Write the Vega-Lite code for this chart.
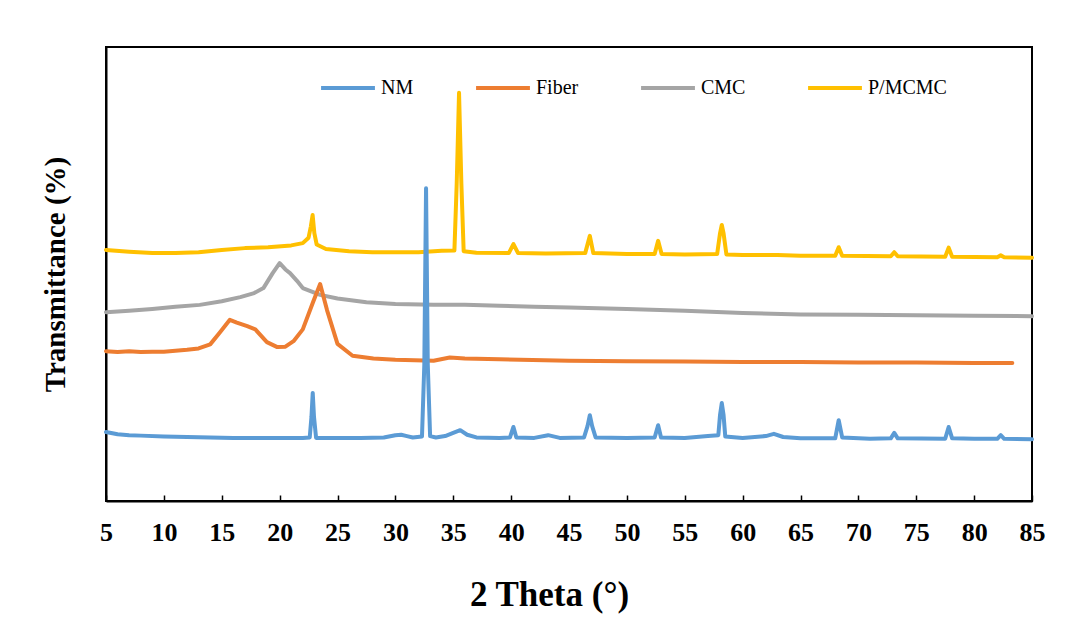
{
  "$schema": "https://vega.github.io/schema/vega-lite/v6.json",
  "width": 926,
  "height": 454,
  "autosize": {"type": "none"},
  "padding": {"left": 106, "top": 47, "right": 33, "bottom": 126},
  "background": "white",
  "config": {
    "font": "Liberation Serif",
    "view": {"stroke": "black", "strokeWidth": 2}
  },
  "data": {
    "values": [
      {"s": "P/MCMC", "x": 5, "y": 55.3}, {"s": "P/MCMC", "x": 7, "y": 54.9}, {"s": "P/MCMC", "x": 9, "y": 54.6}, {"s": "P/MCMC", "x": 11, "y": 54.6}, {"s": "P/MCMC", "x": 13, "y": 54.8}, {"s": "P/MCMC", "x": 15, "y": 55.3}, {"s": "P/MCMC", "x": 17, "y": 55.7}, {"s": "P/MCMC", "x": 19, "y": 55.9}, {"s": "P/MCMC", "x": 21, "y": 56.3}, {"s": "P/MCMC", "x": 22.0, "y": 56.8}, {"s": "P/MCMC", "x": 22.5, "y": 58.0}, {"s": "P/MCMC", "x": 22.7, "y": 60.5}, {"s": "P/MCMC", "x": 22.85, "y": 63.0}, {"s": "P/MCMC", "x": 23.0, "y": 59.0}, {"s": "P/MCMC", "x": 23.2, "y": 56.5}, {"s": "P/MCMC", "x": 24, "y": 55.5}, {"s": "P/MCMC", "x": 26, "y": 55.0}, {"s": "P/MCMC", "x": 28, "y": 54.8}, {"s": "P/MCMC", "x": 30, "y": 54.8}, {"s": "P/MCMC", "x": 32, "y": 54.8}, {"s": "P/MCMC", "x": 34, "y": 55.1}, {"s": "P/MCMC", "x": 35.1, "y": 55.2}, {"s": "P/MCMC", "x": 35.3, "y": 70}, {"s": "P/MCMC", "x": 35.5, "y": 89.9}, {"s": "P/MCMC", "x": 35.7, "y": 70}, {"s": "P/MCMC", "x": 35.9, "y": 55.0}, {"s": "P/MCMC", "x": 37, "y": 54.7}, {"s": "P/MCMC", "x": 39.8, "y": 54.6}, {"s": "P/MCMC", "x": 40.2, "y": 56.6}, {"s": "P/MCMC", "x": 40.6, "y": 54.6}, {"s": "P/MCMC", "x": 43, "y": 54.5}, {"s": "P/MCMC", "x": 46.4, "y": 54.6}, {"s": "P/MCMC", "x": 46.8, "y": 58.4}, {"s": "P/MCMC", "x": 47.1, "y": 54.6}, {"s": "P/MCMC", "x": 50, "y": 54.4}, {"s": "P/MCMC", "x": 52.4, "y": 54.4}, {"s": "P/MCMC", "x": 52.7, "y": 57.3}, {"s": "P/MCMC", "x": 53.0, "y": 54.4}, {"s": "P/MCMC", "x": 55, "y": 54.3}, {"s": "P/MCMC", "x": 57.8, "y": 54.4}, {"s": "P/MCMC", "x": 58.05, "y": 59.0}, {"s": "P/MCMC", "x": 58.2, "y": 60.8}, {"s": "P/MCMC", "x": 58.35, "y": 59.0}, {"s": "P/MCMC", "x": 58.6, "y": 54.3}, {"s": "P/MCMC", "x": 60, "y": 54.2}, {"s": "P/MCMC", "x": 63, "y": 54.2}, {"s": "P/MCMC", "x": 65, "y": 54.0}, {"s": "P/MCMC", "x": 68.0, "y": 54.0}, {"s": "P/MCMC", "x": 68.3, "y": 55.9}, {"s": "P/MCMC", "x": 68.6, "y": 54.0}, {"s": "P/MCMC", "x": 72.8, "y": 53.9}, {"s": "P/MCMC", "x": 73.1, "y": 54.8}, {"s": "P/MCMC", "x": 73.4, "y": 53.9}, {"s": "P/MCMC", "x": 77.5, "y": 53.8}, {"s": "P/MCMC", "x": 77.8, "y": 55.8}, {"s": "P/MCMC", "x": 78.1, "y": 53.8}, {"s": "P/MCMC", "x": 82.0, "y": 53.7}, {"s": "P/MCMC", "x": 82.3, "y": 54.1}, {"s": "P/MCMC", "x": 82.6, "y": 53.7}, {"s": "P/MCMC", "x": 85, "y": 53.6},

      {"s": "CMC", "x": 5, "y": 41.6}, {"s": "CMC", "x": 7, "y": 41.9}, {"s": "CMC", "x": 9, "y": 42.3}, {"s": "CMC", "x": 11, "y": 42.8}, {"s": "CMC", "x": 13.1, "y": 43.2}, {"s": "CMC", "x": 15, "y": 44.0}, {"s": "CMC", "x": 16.6, "y": 44.9}, {"s": "CMC", "x": 17.8, "y": 45.8}, {"s": "CMC", "x": 18.6, "y": 46.9}, {"s": "CMC", "x": 19.4, "y": 50.2}, {"s": "CMC", "x": 20.0, "y": 52.4}, {"s": "CMC", "x": 20.5, "y": 51.0}, {"s": "CMC", "x": 20.9, "y": 50.2}, {"s": "CMC", "x": 21.5, "y": 48.5}, {"s": "CMC", "x": 22.0, "y": 46.9}, {"s": "CMC", "x": 23.5, "y": 45.4}, {"s": "CMC", "x": 25, "y": 44.6}, {"s": "CMC", "x": 27.5, "y": 43.8}, {"s": "CMC", "x": 30, "y": 43.4}, {"s": "CMC", "x": 33.3, "y": 43.2}, {"s": "CMC", "x": 36, "y": 43.2}, {"s": "CMC", "x": 39, "y": 43.0}, {"s": "CMC", "x": 42, "y": 42.8}, {"s": "CMC", "x": 45, "y": 42.6}, {"s": "CMC", "x": 50, "y": 42.3}, {"s": "CMC", "x": 55, "y": 41.9}, {"s": "CMC", "x": 60, "y": 41.4}, {"s": "CMC", "x": 65, "y": 41.1}, {"s": "CMC", "x": 70, "y": 41.0}, {"s": "CMC", "x": 75, "y": 40.9}, {"s": "CMC", "x": 80, "y": 40.8}, {"s": "CMC", "x": 85, "y": 40.7},

      {"s": "Fiber", "x": 5, "y": 33.0}, {"s": "Fiber", "x": 6, "y": 32.8}, {"s": "Fiber", "x": 7, "y": 33.0}, {"s": "Fiber", "x": 8, "y": 32.8}, {"s": "Fiber", "x": 9, "y": 32.9}, {"s": "Fiber", "x": 10, "y": 32.9}, {"s": "Fiber", "x": 11, "y": 33.1}, {"s": "Fiber", "x": 12, "y": 33.3}, {"s": "Fiber", "x": 13, "y": 33.6}, {"s": "Fiber", "x": 14, "y": 34.5}, {"s": "Fiber", "x": 14.8, "y": 37.0}, {"s": "Fiber", "x": 15.7, "y": 39.9}, {"s": "Fiber", "x": 16.3, "y": 39.3}, {"s": "Fiber", "x": 17.2, "y": 38.5}, {"s": "Fiber", "x": 17.9, "y": 37.8}, {"s": "Fiber", "x": 18.9, "y": 35.0}, {"s": "Fiber", "x": 19.8, "y": 33.9}, {"s": "Fiber", "x": 20.5, "y": 34.0}, {"s": "Fiber", "x": 21.2, "y": 35.2}, {"s": "Fiber", "x": 22.0, "y": 37.8}, {"s": "Fiber", "x": 22.9, "y": 43.9}, {"s": "Fiber", "x": 23.5, "y": 47.8}, {"s": "Fiber", "x": 24.1, "y": 42.0}, {"s": "Fiber", "x": 25.0, "y": 34.6}, {"s": "Fiber", "x": 26.3, "y": 32.0}, {"s": "Fiber", "x": 28.1, "y": 31.4}, {"s": "Fiber", "x": 30, "y": 31.1}, {"s": "Fiber", "x": 33.3, "y": 30.9}, {"s": "Fiber", "x": 34.7, "y": 31.6}, {"s": "Fiber", "x": 36, "y": 31.4}, {"s": "Fiber", "x": 39, "y": 31.2}, {"s": "Fiber", "x": 45, "y": 30.9}, {"s": "Fiber", "x": 50, "y": 30.8}, {"s": "Fiber", "x": 55, "y": 30.7}, {"s": "Fiber", "x": 60, "y": 30.6}, {"s": "Fiber", "x": 65, "y": 30.6}, {"s": "Fiber", "x": 70, "y": 30.5}, {"s": "Fiber", "x": 75, "y": 30.5}, {"s": "Fiber", "x": 80, "y": 30.4}, {"s": "Fiber", "x": 83.3, "y": 30.4},

      {"s": "NM", "x": 5, "y": 15.2}, {"s": "NM", "x": 6, "y": 14.7}, {"s": "NM", "x": 7, "y": 14.5}, {"s": "NM", "x": 8, "y": 14.4}, {"s": "NM", "x": 10, "y": 14.2}, {"s": "NM", "x": 12, "y": 14.1}, {"s": "NM", "x": 14, "y": 14.0}, {"s": "NM", "x": 16, "y": 13.9}, {"s": "NM", "x": 18, "y": 13.9}, {"s": "NM", "x": 20, "y": 13.9}, {"s": "NM", "x": 22, "y": 13.9}, {"s": "NM", "x": 22.6, "y": 14.0}, {"s": "NM", "x": 22.75, "y": 18.5}, {"s": "NM", "x": 22.86, "y": 23.8}, {"s": "NM", "x": 22.97, "y": 18.5}, {"s": "NM", "x": 23.15, "y": 13.9}, {"s": "NM", "x": 25, "y": 13.9}, {"s": "NM", "x": 27, "y": 13.9}, {"s": "NM", "x": 29, "y": 14.0}, {"s": "NM", "x": 30, "y": 14.5}, {"s": "NM", "x": 30.5, "y": 14.6}, {"s": "NM", "x": 31, "y": 14.3}, {"s": "NM", "x": 31.5, "y": 14.0}, {"s": "NM", "x": 32.3, "y": 14.2}, {"s": "NM", "x": 32.5, "y": 30}, {"s": "NM", "x": 32.65, "y": 68.9}, {"s": "NM", "x": 32.8, "y": 30}, {"s": "NM", "x": 33.0, "y": 14.3}, {"s": "NM", "x": 33.5, "y": 14.0}, {"s": "NM", "x": 34.3, "y": 14.3}, {"s": "NM", "x": 35.0, "y": 15.0}, {"s": "NM", "x": 35.6, "y": 15.6}, {"s": "NM", "x": 36.2, "y": 14.6}, {"s": "NM", "x": 37, "y": 14.0}, {"s": "NM", "x": 39, "y": 13.9}, {"s": "NM", "x": 39.9, "y": 14.0}, {"s": "NM", "x": 40.2, "y": 16.3}, {"s": "NM", "x": 40.45, "y": 14.0}, {"s": "NM", "x": 42, "y": 13.9}, {"s": "NM", "x": 43.2, "y": 14.5}, {"s": "NM", "x": 44.2, "y": 13.9}, {"s": "NM", "x": 46.3, "y": 14.0}, {"s": "NM", "x": 46.6, "y": 16.5}, {"s": "NM", "x": 46.8, "y": 18.9}, {"s": "NM", "x": 47.0, "y": 16.5}, {"s": "NM", "x": 47.3, "y": 14.0}, {"s": "NM", "x": 50, "y": 13.9}, {"s": "NM", "x": 52.4, "y": 14.0}, {"s": "NM", "x": 52.7, "y": 16.7}, {"s": "NM", "x": 52.95, "y": 14.0}, {"s": "NM", "x": 55, "y": 13.9}, {"s": "NM", "x": 57, "y": 14.3}, {"s": "NM", "x": 57.9, "y": 14.5}, {"s": "NM", "x": 58.05, "y": 19.0}, {"s": "NM", "x": 58.2, "y": 21.6}, {"s": "NM", "x": 58.35, "y": 19.0}, {"s": "NM", "x": 58.5, "y": 14.2}, {"s": "NM", "x": 60, "y": 13.9}, {"s": "NM", "x": 62, "y": 14.3}, {"s": "NM", "x": 62.7, "y": 14.8}, {"s": "NM", "x": 63.5, "y": 14.1}, {"s": "NM", "x": 65, "y": 13.8}, {"s": "NM", "x": 68.0, "y": 13.8}, {"s": "NM", "x": 68.3, "y": 17.8}, {"s": "NM", "x": 68.6, "y": 14.0}, {"s": "NM", "x": 71, "y": 13.7}, {"s": "NM", "x": 72.8, "y": 13.8}, {"s": "NM", "x": 73.1, "y": 15.0}, {"s": "NM", "x": 73.4, "y": 13.8}, {"s": "NM", "x": 77.5, "y": 13.7}, {"s": "NM", "x": 77.8, "y": 16.3}, {"s": "NM", "x": 78.1, "y": 13.8}, {"s": "NM", "x": 80, "y": 13.7}, {"s": "NM", "x": 82.0, "y": 13.7}, {"s": "NM", "x": 82.3, "y": 14.5}, {"s": "NM", "x": 82.6, "y": 13.7}, {"s": "NM", "x": 85, "y": 13.6}
    ]
  },
  "mark": {"type": "line", "strokeWidth": 4, "strokeJoin": "round", "strokeCap": "round"},
  "encoding": {
    "x": {
      "field": "x", "type": "quantitative",
      "scale": {"domain": [5, 85], "nice": false, "zero": false},
      "axis": {
        "title": "2 Theta (°)",
        "values": [5, 10, 15, 20, 25, 30, 35, 40, 45, 50, 55, 60, 65, 70, 75, 80, 85],
        "grid": false,
        "domainColor": "black", "domainWidth": 2,
        "tickColor": "black", "tickWidth": 1.5, "tickSize": -6,
        "labelFont": "Liberation Serif", "labelFontSize": 26, "labelFontWeight": "bold", "labelColor": "black",
        "labelPadding": 24, "labelFlush": false,
        "titleFont": "Liberation Serif", "titleFontSize": 35, "titleFontWeight": "bold", "titleColor": "black",
        "titlePadding": 32, "titleX": 443
      }
    },
    "y": {
      "field": "y", "type": "quantitative",
      "scale": {"domain": [0, 100], "nice": false, "zero": false},
      "axis": {
        "title": "Transmittance  (%)",
        "labels": false, "ticks": false, "grid": false,
        "domainColor": "black", "domainWidth": 2,
        "titleFont": "Liberation Serif", "titleFontSize": 29, "titleFontWeight": "bold", "titleColor": "black",
        "titlePadding": 36
      }
    },
    "color": {
      "field": "s", "type": "nominal",
      "scale": {"domain": ["NM", "Fiber", "CMC", "P/MCMC"], "range": ["#5B9BD5", "#ED7D31", "#A5A5A5", "#FFC000"]},
      "legend": {
        "title": null,
        "orient": "none", "legendX": 213, "legendY": 12,
        "direction": "horizontal",
        "symbolType": "stroke", "symbolSize": 2900, "symbolStrokeWidth": 4,
        "labelFont": "Liberation Serif", "labelFontSize": 20, "labelColor": "black",
        "labelOffset": 4, "columnPadding": 54
      }
    }
  }
}
